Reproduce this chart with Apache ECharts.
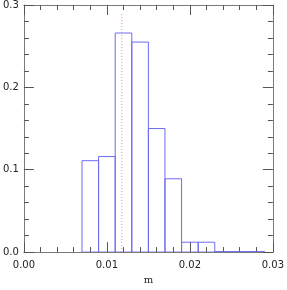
<!DOCTYPE html>
<html><head><meta charset="utf-8">
<script src="https://cdn.jsdelivr.net/npm/echarts@6/dist/echarts.min.js"></script>
<style>html,body{margin:0;padding:0;background:#fff}#c{width:287px;height:290px}</style>
</head><body><div id="c"></div>
<script>
const binStarts = [0.007,0.009,0.011,0.013,0.015,0.017,0.019,0.021,0.023,0.025,0.027];
const binWidth = 0.002;
const binValues = [0.111,0.116,0.266,0.255,0.150,0.089,0.012,0.012,0.0006,0.0006,0.0006];
const vlineX = 0.0118;
const vlineTop = 0.29;
const xTicks = [0, 0.01, 0.02, 0.03];
const yTicks = [0, 0.1, 0.2, 0.3];

const histData = binStarts.map((s,i)=>[s, s+binWidth, binValues[i]]);
const chart = echarts.init(document.getElementById('c'), null, {renderer:'canvas'});
const axisCommon = {
  axisLine:{show:true, onZero:false, lineStyle:{color:'#7a7a7a', width:1}},
  axisTick:{show:true, inside:true, length:10, lineStyle:{color:'#555'}},
  minorTick:{show:true, splitNumber:5, length:5, lineStyle:{color:'#555'}},
  splitLine:{show:false}
};
const font = {fontFamily:'DejaVu Sans', fontSize:10, color:'#222'};
chart.setOption({
  animation:false,
  grid:{left:22, right:12, top:4, bottom:32},
  xAxis:[
    Object.assign({type:'value', min:xTicks[0], max:xTicks[xTicks.length-1], interval:0.01, position:'bottom',
      name:'m', nameLocation:'middle', nameGap:21,
      nameTextStyle:{fontFamily:'DejaVu Serif', fontSize:10, color:'#222'},
      axisLabel:Object.assign({margin:8, formatter:v=>v.toFixed(2)}, font)}, axisCommon),
    Object.assign({type:'value', min:xTicks[0], max:xTicks[xTicks.length-1], interval:0.01, position:'top',
      axisLabel:{show:false}}, axisCommon)
  ],
  yAxis:[
    Object.assign({type:'value', min:yTicks[0], max:yTicks[yTicks.length-1], interval:0.1, position:'left',
      axisLabel:Object.assign({margin:5, formatter:v=>v.toFixed(1)}, font)}, axisCommon),
    Object.assign({type:'value', min:yTicks[0], max:yTicks[yTicks.length-1], interval:0.1, position:'right',
      axisLabel:{show:false}}, axisCommon)
  ],
  series:[
    {type:'custom', xAxisIndex:0, yAxisIndex:0, data:histData, clip:true,
     renderItem:function(params, api){
       const p0 = api.coord([api.value(0), 0]);
       const p1 = api.coord([api.value(1), api.value(2)]);
       return {type:'rect', shape:{x:p0[0], y:p1[1], width:p1[0]-p0[0], height:p0[1]-p1[1]},
         style:{fill:'none', stroke:'#6c6cf2', lineWidth:1}};
     }},
    {type:'line', xAxisIndex:0, yAxisIndex:0, data:[[vlineX,0],[vlineX,vlineTop]], symbol:'none',
     lineStyle:{color:'#f08a8a', width:1, type:[1,2]}}
  ]
});
</script></body></html>
